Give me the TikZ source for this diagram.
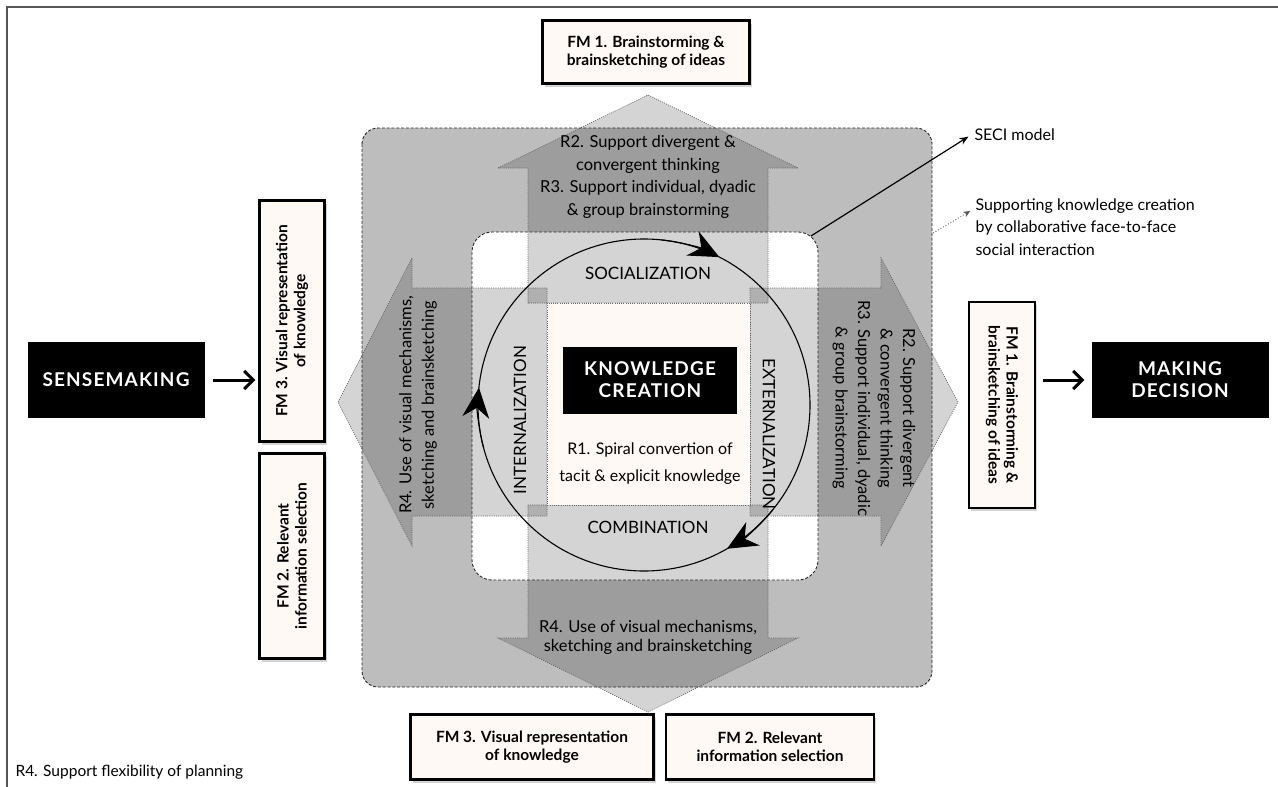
\documentclass[tikz,border=0pt]{standalone}
\usepackage{fontspec}
\setmainfont{Lato}
\usetikzlibrary{arrows.meta,shadows}
\definecolor{outergray}{RGB}{189,189,189}
\definecolor{paper}{RGB}{255,249,246}
\definecolor{framegray}{RGB}{85,85,85}
\tikzset{>=stealth}
\tikzset{
  blockarrow/.style={fill=black, fill opacity=0.17, draw=gray!80!black, dash pattern=on 1pt off 1.2pt, line width=0.7pt},
  dashbox/.style={draw=black!85, dash pattern=on 3pt off 1.8pt, line width=0.9pt},
  fmbox/.style={draw=black, line width=2.4pt, fill=paper, align=center, inner sep=0pt,
    font=\bfseries\fontsize{15.5}{18}\selectfont,
    drop shadow={opacity=0.35, shadow xshift=2pt, shadow yshift=-3pt}},
  blackbox/.style={fill=black, text=white, align=center, font=\bfseries\fontsize{19}{22}\selectfont\addfontfeature{LetterSpace=6}},
  arrowtext/.style={align=center, font=\fontsize{16.5}{22.5}\selectfont},
  phase/.style={font=\fontsize{17}{20}\selectfont},
  spin/.style={line width=1.1pt, -{Stealth[length=30pt,width=27pt]}},
  flow/.style={-{Straight Barb[length=9pt,width=18pt]}, line width=3pt}
}

\begin{document}
\begin{tikzpicture}[x=1pt, y=-1pt]
    \useasboundingbox (0,0) rectangle (1278,787);
    \draw [framegray, line width=2.5pt] (7,787) -- (7,7) -- (1278,7);

    \path [fill=outergray, rounded corners=16pt] (362,128) rectangle (932,687);
    \path [fill=white, rounded corners=20pt] (472,232) rectangle (818,580);

    \draw [blockarrow] (528,303) -- (528,168) -- (498,168) -- (648,95) -- (798,168) -- (768,168) -- (768,303) -- cycle;
    \draw [blockarrow] (528,505) -- (528,638) -- (498,638) -- (648,712) -- (798,638) -- (768,638) -- (768,505) -- cycle;
    \draw [blockarrow] (547,288) -- (412,288) -- (412,258) -- (338,402) -- (412,546) -- (412,516) -- (547,516) -- cycle;
    \draw [blockarrow] (750,288) -- (881,288) -- (881,258) -- (958,402) -- (881,546) -- (881,516) -- (750,516) -- cycle;

    \draw [dashbox, rounded corners=16pt] (362,128) rectangle (932,687);
    \draw [dashbox, rounded corners=20pt] (472,232) rectangle (818,580);
    \draw [fill=paper, draw=gray!80!black, dash pattern=on 1pt off 1.2pt, line width=0.7pt] (547,303) rectangle (750,505);

    \coordinate (c) at (644,405);
    \draw [line width=1.1pt] (c) circle [radius=166];
    \draw [spin] (c) ++(-84:166) arc [start angle=-84, end angle=-63, radius=166];
    \draw [spin] (c) ++(39:166) arc [start angle=39, end angle=60, radius=166];
    \draw [spin] (c) ++(-195:166) arc [start angle=-195, end angle=-174, radius=166];

    \node [phase] (soc) at (648,273) {SOCIALIZATION};
    \node [phase] (comb) at (648,527) {COMBINATION};
    \node [phase, rotate=90] (intern) at (520,420) {INTERNALIZATION};
    \node [phase, rotate=-90] (extern) at (769,434) {EXTERNALIZATION};

    \node [blackbox, minimum width=174pt, minimum height=67pt] (kc) at (650,380) {KNOWLEDGE\\CREATION};
    \node [align=center, font=\fontsize{16}{27}\selectfont] (spiral) at (650,464) {R1. Spiral convertion of\\tacit \& explicit knowledge};

    \node [arrowtext] (r23top) at (648,177) {R2. Support divergent \&\\convergent thinking\\R3. Support individual, dyadic\\\& group brainstorming};
    \node [arrowtext, font=\fontsize{16.5}{19}\selectfont] (r4bot) at (648,637) {R4. Use of visual mechanisms,\\sketching and brainsketching};
    \node [arrowtext] (r4left) at (418,405) [rotate=90] {R4. Use of visual mechanisms,\\sketching and brainsketching};
    \node [arrowtext] (r23right) at (874,408) [rotate=-90] {R2. Support divergent\\\& convergent thinking\\R3. Support individual, dyadic\\\& group brainstorming};

    \node [fmbox, minimum width=207pt, minimum height=63pt] (fm1top) at (646,52) {FM 1. Brainstorming \&\\brainsketching of ideas};
    \node [fmbox, minimum width=243pt, minimum height=65pt] (fm3bot) at (532,747) {FM 3. Visual representation\\of knowledge};
    \node [fmbox, minimum width=208pt, minimum height=65pt] (fm2bot) at (770,747) {FM 2. Relevant\\information selection};
    \node [fmbox, rotate=90, minimum width=241pt, minimum height=65pt] (fm3left) at (292,321) {FM 3. Visual representation\\of knowledge};
    \node [fmbox, rotate=90, minimum width=205pt, minimum height=65pt] (fm2left) at (292,556) {FM 2. Relevant\\information selection};
    \node [fmbox, rotate=-90, minimum width=206pt, minimum height=66pt] (fm1right) at (1002,405) {FM 1. Brainstorming \&\\brainsketching of ideas};

    \node [blackbox, minimum width=177pt, minimum height=76pt] (sense) at (116,380) {SENSEMAKING};
    \node [blackbox, minimum width=177pt, minimum height=76pt] (decide) at (1180,380) {MAKING\\DECISION};
    \draw [flow, shorten <=8pt, shorten >=3pt] (sense) -- (sense -| fm3left.north);
    \draw [flow, shorten <=7pt, shorten >=7pt] (decide -| fm1right.north) -- (decide);

    \coordinate (innerNE) at (811,236);
    \node [anchor=west, font=\fontsize{16}{20}\selectfont] (seci) at (971,135) {SECI model};
    \draw [line width=1.2pt, -{Stealth[length=9pt,width=7pt]}, shorten >=3pt] (innerNE) -- (seci.west);

    \coordinate (outerE) at (933,233);
    \node [anchor=north west, align=left, font=\fontsize{16}{22.5}\selectfont] (support) at (972,195) {Supporting knowledge creation\\by collaborative face-to-face\\social interaction};
    \draw [gray!70!black, dotted, line width=0.9pt, -{Stealth[length=7pt,width=6pt]}, shorten >=2pt] (outerE) -- ([yshift=-15pt]support.north west);

    \node [anchor=west, font=\fontsize{15.5}{18}\selectfont] (flex) at (12,772) {R4. Support flexibility of planning};
\end{tikzpicture}
\end{document}
